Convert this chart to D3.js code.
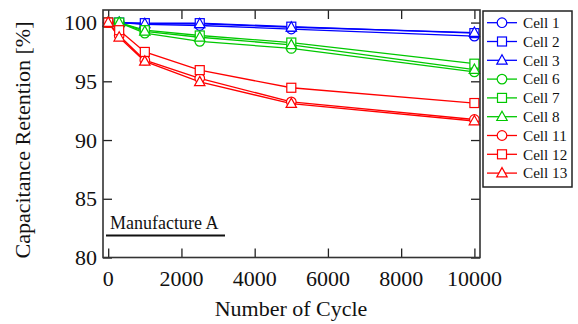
<!DOCTYPE html>
<html><head><meta charset="utf-8">
<script src="https://cdn.jsdelivr.net/npm/d3@7"></script>
<style>body{margin:0;background:#fff}svg{display:block}</style>
</head><body>
<svg id="c" width="578" height="324"></svg>
<script>
const cycles = [0, 300, 1000, 2500, 5000, 10000];
const cellNames = ["Cell 1","Cell 2","Cell 3","Cell 6","Cell 7","Cell 8","Cell 11","Cell 12","Cell 13"];
const cellColors = ["#0000ff","#0000ff","#0000ff","#00c800","#00c800","#00c800","#ff0000","#ff0000","#ff0000"];
const cellShapes = ["circle","square","triangle","circle","square","triangle","circle","square","triangle"];
const cell1  = [100, 100, 99.85, 99.75, 99.45, 98.85];
const cell2  = [100, 100, 99.95, 99.95, 99.65, 99.1];
const cell3  = [100, 100, 99.9, 99.9, 99.6, 99.15];
const cell6  = [100, 100, 99.1, 98.4, 97.8, 95.8];
const cell7  = [100, 100, 99.35, 98.9, 98.3, 96.5];
const cell8  = [100, 100, 99.25, 98.75, 98.1, 96.0];
const cell11 = [100, 98.9, 96.8, 95.25, 93.25, 91.75];
const cell12 = [100, 99.35, 97.5, 95.95, 94.45, 93.15];
const cell13 = [100, 98.75, 96.7, 94.95, 93.1, 91.62];
const series = [cell1,cell2,cell3,cell6,cell7,cell8,cell11,cell12,cell13];
const xTicks = [0,2000,4000,6000,8000,10000];
const yTicks = [80,85,90,95,100];

const FONT = "Liberation Serif";
const svg = d3.select("#c");
const L=103, R=480, T=10, B=257.5;
const x = d3.scaleLinear().domain([-142,10153]).range([L,R]);
const y = d3.scaleLinear().domain([80,101.07]).range([B,T]);

const tk = 9;
const g = svg.append("g");
g.append("g").attr("transform",`translate(0,${B})`).call(d3.axisBottom(x).tickValues(xTicks).tickSizeInner(-tk).tickSizeOuter(0).tickFormat(""));
g.append("g").attr("transform",`translate(0,${T})`).call(d3.axisTop(x).tickValues(xTicks).tickSizeInner(-tk).tickSizeOuter(0).tickFormat(""));
g.append("g").attr("transform",`translate(${L},0)`).call(d3.axisLeft(y).tickValues(yTicks).tickSizeInner(-tk).tickSizeOuter(0).tickFormat(""));
g.append("g").attr("transform",`translate(${R},0)`).call(d3.axisRight(y).tickValues(yTicks).tickSizeInner(-tk).tickSizeOuter(0).tickFormat(""));
g.selectAll(".domain").remove();
g.selectAll(".tick line").attr("stroke","#222").attr("stroke-width",1.3);

function txt(){ return svg.append("text").attr("font-family",FONT).attr("fill","#111"); }

xTicks.forEach(d=>txt().attr("x",x(d)).attr("y",286).attr("text-anchor","middle").attr("font-size",22).text(d));
yTicks.forEach(d=>txt().attr("x",97).attr("y",y(d)+7.5).attr("text-anchor","end").attr("font-size",22).text(d));

txt().attr("x",291).attr("y",316).attr("text-anchor","middle").attr("font-size",22).text("Number of Cycle");
txt().attr("transform","translate(30,140) rotate(-90)").attr("text-anchor","middle").attr("font-size",22).text("Capacitance Retention [%]");

txt().attr("x",110).attr("y",229).attr("font-size",18).text("Manufacture A");
svg.append("line").attr("x1",106).attr("x2",225).attr("y1",235.5).attr("y2",235.5).attr("stroke","#111").attr("stroke-width",2);

function drawMarker(sel, shape, color){
  if(shape==="circle") sel.append("circle").attr("r",4.8);
  else if(shape==="square") sel.append("rect").attr("x",-4.5).attr("y",-4.5).attr("width",9).attr("height",9);
  else sel.append("path").attr("d","M0,-5.5L5.2,3.8L-5.2,3.8Z");
  sel.selectAll("*").attr("fill","#fff").attr("stroke",color).attr("stroke-width",1.2);
}

const line = d3.line().x(d=>x(d[0])).y(d=>y(d[1]));
series.forEach((vals,i)=>{
  const pts = cycles.map((c,j)=>[c,vals[j]]);
  svg.append("path").attr("d",line(pts)).attr("fill","none").attr("stroke",cellColors[i]).attr("stroke-width",1.3);
});
series.forEach((vals,i)=>{
  cycles.forEach((c,j)=>{
    const m = svg.append("g").attr("transform",`translate(${x(c)},${y(vals[j])})`);
    drawMarker(m, cellShapes[i], cellColors[i]);
  });
});

svg.append("rect").attr("x",L).attr("y",T).attr("width",R-L).attr("height",B-T).attr("fill","none").attr("stroke","#333").attr("stroke-width",1.6);

svg.append("rect").attr("x",483).attr("y",11).attr("width",89).attr("height",176).attr("fill","#fff").attr("stroke","#222").attr("stroke-width",1.5);
cellNames.forEach((n,i)=>{
  const yy = 22.7 + i*18.8;
  svg.append("line").attr("x1",487).attr("x2",517).attr("y1",yy).attr("y2",yy).attr("stroke",cellColors[i]).attr("stroke-width",1.3);
  const m = svg.append("g").attr("transform",`translate(502,${yy})`);
  drawMarker(m, cellShapes[i], cellColors[i]);
  txt().attr("x",523).attr("y",yy+5.3).attr("font-size",15.2).text(n);
});
</script>
</body></html>
